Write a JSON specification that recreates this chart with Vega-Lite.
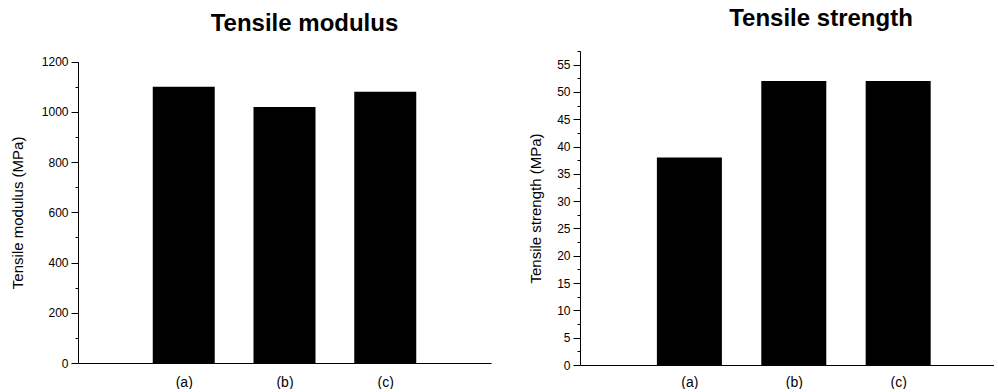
{
  "$schema": "https://vega.github.io/schema/vega-lite/v6.json",
  "padding": {"left": 10, "top": 6, "right": 0, "bottom": 0},
  "spacing": 37,
  "config": {
    "view": {"stroke": null},
    "font": "Liberation Sans",
    "axis": {"domainColor": "black", "tickColor": "black", "labelColor": "black", "titleColor": "black", "labelFont": "Liberation Sans", "titleFont": "Liberation Sans", "grid": false, "domainWidth": 1, "tickWidth": 1},
    "title": {"font": "Liberation Sans", "fontSize": 24, "fontWeight": "bold", "color": "black"}
  },
  "hconcat": [
    {
      "title": {"text": "Tensile modulus", "dx": 20, "offset": 15},
      "width": 413,
      "height": 312,
      "data": {"values": [
        {"sample": "(a)", "pos": 1, "modulus": 1100},
        {"sample": "(b)", "pos": 2, "modulus": 1020},
        {"sample": "(c)", "pos": 3, "modulus": 1080}
      ]},
      "mark": {"type": "bar", "width": 62, "color": "black"},
      "encoding": {
        "x": {"field": "pos", "type": "quantitative", "scale": {"domain": [0, 4], "nice": false},
          "axis": {"values": [1, 2, 3], "labelExpr": "['', '(a)', '(b)', '(c)'][datum.value]", "ticks": false, "title": null, "labelFontSize": 14, "labelPadding": 12}},
        "y": {"field": "modulus", "type": "quantitative", "scale": {"domain": [0, 1200], "nice": false, "range": [312, 10.7]},
          "axis": {"values": [0, 100, 200, 300, 400, 500, 600, 700, 800, 900, 1000, 1100, 1200], "format": "d",
            "labelExpr": "datum.value % 200 === 0 ? datum.label : ''",
            "tickSize": {"condition": {"test": "datum.value % 200 === 0", "value": 7}, "value": 3},
            "labelFontSize": 12, "labelPadding": 3,
            "title": "Tensile modulus (MPa)", "titleFontSize": 15, "titleFontWeight": "normal", "titlePadding": 16}}
      }
    },
    {
      "title": {"text": "Tensile strength", "dx": 34, "offset": 20},
      "width": 414,
      "height": 314,
      "data": {"values": [
        {"sample": "(a)", "pos": 1, "strength": 38},
        {"sample": "(b)", "pos": 2, "strength": 52},
        {"sample": "(c)", "pos": 3, "strength": 52}
      ]},
      "mark": {"type": "bar", "width": 65, "color": "black"},
      "encoding": {
        "x": {"field": "pos", "type": "quantitative", "scale": {"domain": [0, 3.87], "nice": false},
          "axis": {"values": [1, 2, 3], "labelExpr": "['', '(a)', '(b)', '(c)'][datum.value]", "ticks": false, "title": null, "labelFontSize": 14, "labelPadding": 10}},
        "y": {"field": "strength", "type": "quantitative", "scale": {"domain": [0, 57.5], "nice": false},
          "axis": {"values": [0, 2.5, 5, 7.5, 10, 12.5, 15, 17.5, 20, 22.5, 25, 27.5, 30, 32.5, 35, 37.5, 40, 42.5, 45, 47.5, 50, 52.5, 55, 57.5],
            "labelExpr": "datum.value % 5 === 0 ? datum.label : ''",
            "tickSize": {"condition": {"test": "datum.value % 5 === 0", "value": 7}, "value": 3},
            "labelFontSize": 12, "labelPadding": 3,
            "title": "Tensile strength (MPa)", "titleFontSize": 15, "titleFontWeight": "normal", "titlePadding": 13}}
      }
    }
  ]
}
